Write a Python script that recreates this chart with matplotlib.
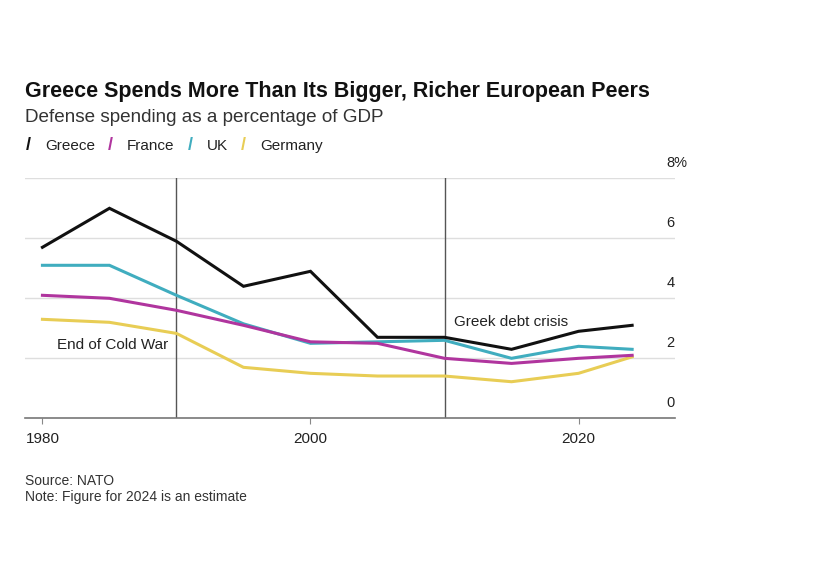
import matplotlib.pyplot as plt

plt.rcParams['font.family'] = ['Liberation Sans', 'DejaVu Sans']

# Данные (оборонные расходы, % ВВП)
years = [1980, 1985, 1990, 1995, 2000, 2005, 2010, 2015, 2020, 2024]
greece = [5.7, 7.0, 5.9, 4.4, 4.9, 2.7, 2.7, 2.3, 2.9, 3.1]
france = [4.1, 4.0, 3.6, 3.1, 2.55, 2.5, 2.0, 1.83, 2.0, 2.1]
uk = [5.1, 5.1, 4.1, 3.15, 2.5, 2.55, 2.6, 2.0, 2.4, 2.3]
germany = [3.3, 3.2, 2.83, 1.7, 1.5, 1.41, 1.41, 1.22, 1.5, 2.05]

names = ['Greece', 'France', 'UK', 'Germany']
colors = ['#111111', '#b0359e', '#40adbf', '#e8cd55']
y_ticks = [0, 2, 4, 6, 8]
y_labels = ['0', '2', '4', '6', '8%']
x_ticks = [1980, 2000, 2020]

fig = plt.figure(figsize=(8.2, 5.74), dpi=100)
ax = fig.add_axes([0.0305, 0.2712, 0.7927, 0.4182])

# Линии стран (Германия снизу, Греция сверху)
for vals, c in zip([germany, uk, france, greece], colors[::-1]):
    ax.plot(years, vals, color=c, lw=2.2, solid_joinstyle='miter', zorder=3)

ax.set_xlim(1978.7, 2027.2)
ax.set_ylim(0, 8)

# Сетка и подписи оси Y справа над линиями
for t, lab in zip(y_ticks, y_labels):
    if t > 0:
        ax.axhline(t, color='#dedede', lw=1, zorder=1)
    ax.text(0.987, t + 0.28, lab, transform=ax.get_yaxis_transform(),
            ha='left', va='bottom', fontsize=10.5, color='#222222')

# События
ax.axvline(1990, color='#555555', lw=1, zorder=2)
ax.axvline(2010, color='#555555', lw=1, zorder=2)
ax.text(1981.1, 2.45, 'End of Cold War', fontsize=11, color='#222222',
        va='center', ha='left', zorder=4)
ax.text(2010.7, 3.2, 'Greek debt crisis', fontsize=11, color='#222222',
        va='center', ha='left', zorder=4)

ax.set_yticks([])
ax.set_xticks(x_ticks)
ax.set_xticklabels([str(x) for x in x_ticks], fontsize=11, color='#222222')
ax.tick_params(axis='x', length=4, width=0.8, color='#888888', pad=6)
for s in ['top', 'left', 'right']:
    ax.spines[s].set_visible(False)
ax.spines['bottom'].set_color('#777777')
ax.spines['bottom'].set_linewidth(1.2)

# Заголовки
fig.text(0.0305, 1 - 91 / 574, 'Greece Spends More Than Its Bigger, Richer European Peers',
         fontsize=15.5, fontweight='bold', va='center', ha='left', color='#111111')
fig.text(0.0305, 1 - 118 / 574, 'Defense spending as a percentage of GDP',
         fontsize=13.6, va='center', ha='left', color='#333333')

# Легенда
leg_x = [26, 108, 188, 241]
for x0, n, c in zip(leg_x, names, colors):
    fig.text(x0 / 820, 1 - 146 / 574, '/', fontsize=13, fontweight='bold',
             color=c, va='center', ha='left')
    fig.text((x0 + 19) / 820, 1 - 146 / 574, n, fontsize=11,
             color='#222222', va='center', ha='left')

# Источник
fig.text(0.0305, 1 - 481 / 574, 'Source: NATO', fontsize=10, color='#333333',
         va='center', ha='left')
fig.text(0.0305, 1 - 497 / 574, 'Note: Figure for 2024 is an estimate', fontsize=10,
         color='#333333', va='center', ha='left')

fig.savefig('out.png', dpi=100, facecolor='white')
